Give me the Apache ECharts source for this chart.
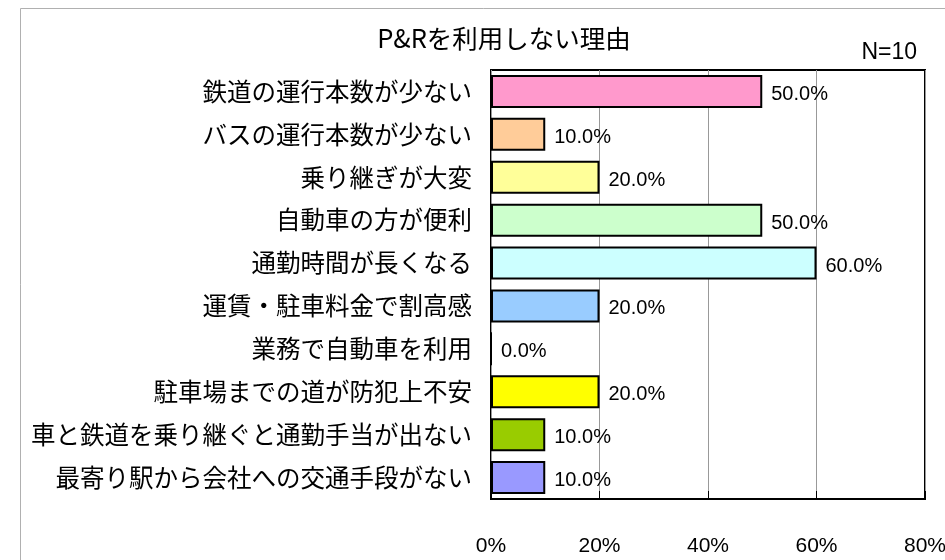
<!DOCTYPE html>
<html>
<head>
<meta charset="utf-8">
<style>
  html, body { margin: 0; padding: 0; background: #fff; }
  #chart { width: 945px; height: 560px; }
</style>
<script src="https://cdn.jsdelivr.net/npm/echarts@6/dist/echarts.min.js"></script>
</head>
<body>
<div id="chart"></div>
<script>
// Reasons for not using Park & Ride (percent of respondents, N=10)
const chartTitle = 'P&Rを利用しない理由';
const sampleNote = 'N=10';
const categories = [
  '鉄道の運行本数が少ない',
  'バスの運行本数が少ない',
  '乗り継ぎが大変',
  '自動車の方が便利',
  '通勤時間が長くなる',
  '運賃・駐車料金で割高感',
  '業務で自動車を利用',
  '駐車場までの道が防犯上不安',
  '車と鉄道を乗り継ぐと通勤手当が出ない',
  '最寄り駅から会社への交通手段がない'
];
const shares = [50, 10, 20, 50, 60, 20, 0, 20, 10, 10];
const barColors = [
  '#FF99CC', '#FFCC99', '#FFFF99', '#CCFFCC', '#CCFFFF',
  '#99CCFF', '#FFFFFF', '#FFFF00', '#99CC00', '#9999FF'
];
const axisMax = 80;
const axisStep = 20;

const numFont = '"Liberation Sans", Arial, sans-serif';
const jpFont = '"Noto Sans CJK JP", "Noto Sans", sans-serif';

const chart = echarts.init(document.getElementById('chart'), null, { renderer: 'canvas' });

chart.setOption({
  backgroundColor: '#ffffff',
  animation: false,
  title: {
    text: chartTitle,
    left: 499,
    top: 21,
    textAlign: 'center',
    textStyle: { fontFamily: jpFont, fontSize: 25.5, fontWeight: 'normal', color: '#000' }
  },
  graphic: [
    {
      type: 'rect',
      z: -10,
      silent: true,
      shape: { x: 20.5, y: 8.5, width: 960, height: 600 },
      style: { fill: 'none', stroke: '#b0b0b0', lineWidth: 1 }
    },
    {
      type: 'text',
      right: 28,
      top: 41,
      style: {
        text: sampleNote,
        font: '23px "Liberation Sans", sans-serif',
        fill: '#000'
      }
    }
  ],
  grid: {
    left: 491,
    right: 20,
    top: 70,
    bottom: 61,
    show: true,
    backgroundColor: '#fff',
    borderColor: '#000',
    borderWidth: 2,
    containLabel: false,
    outerBoundsMode: 'none'
  },
  xAxis: {
    type: 'value',
    min: 0,
    max: axisMax,
    interval: axisStep,
    axisLine: { show: false },
    axisTick: { show: true, inside: true, length: 8, lineStyle: { color: '#000', width: 1 } },
    splitLine: { show: true, lineStyle: { color: '#999', width: 1 } },
    axisLabel: {
      margin: 37,
      formatter: v => v + '%',
      fontFamily: numFont,
      fontSize: 21,
      color: '#000'
    }
  },
  yAxis: {
    type: 'category',
    data: categories,
    inverse: true,
    axisLine: { show: false },
    axisTick: { show: false },
    axisLabel: {
      margin: 19,
      fontFamily: jpFont,
      fontSize: 24.5,
      color: '#000'
    }
  },
  series: [{
    type: 'bar',
    data: shares.map((v, i) => ({
      value: v,
      itemStyle: { color: barColors[i] }
    })),
    barWidth: 33,
    itemStyle: { borderColor: '#000', borderWidth: 2 },
    label: {
      show: true,
      position: 'right',
      distance: 9,
      offset: [0, 3],
      formatter: p => p.value.toFixed(1) + '%',
      fontFamily: numFont,
      fontSize: 20,
      color: '#000'
    }
  }]
});
</script>
</body>
</html>
